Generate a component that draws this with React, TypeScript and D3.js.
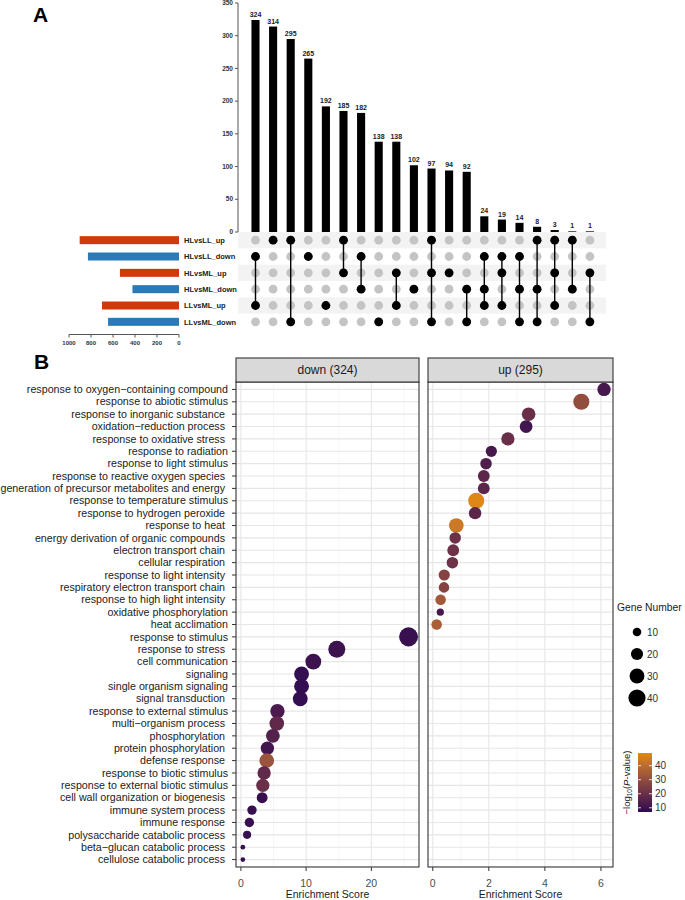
import React from "react";
import * as d3 from "d3";

// ---- panel A: upset data ----
const setNames = ["HLvsLL_up", "HLvsLL_down", "HLvsML_up", "HLvsML_down", "LLvsML_up", "LLvsML_down"];
const setSizes = [903, 828, 537, 423, 700, 645];
const interSizes = [324, 314, 295, 265, 192, 185, 182, 138, 138, 102, 97, 94, 92, 24, 19, 14, 8, 3, 1, 1];
// which sets (row index) take part in each intersection
const interMembers = [
  [1, 4], [0], [0, 5], [1], [4], [0, 2], [1, 3], [5], [2, 4], [3],
  [0, 2, 5], [2], [3, 5], [1, 3, 4], [1, 2, 4], [1, 3, 5], [0, 3, 5], [0, 2, 4], [0, 3], [2, 5],
];
const interTicks = [0, 50, 100, 150, 200, 250, 300, 350];
const setTicks = [1000, 800, 600, 400, 200, 0];

// ---- panel B: GO enrichment ----
const terms = [
  "response to oxygen\u2212containing compound",
  "response to abiotic stimulus",
  "response to inorganic substance ",
  "oxidation\u2212reduction process ",
  "response to oxidative stress ",
  "response to radiation",
  "response to light stimulus",
  "response to reactive oxygen species ",
  "generation of precursor metabolites and energy ",
  "response to temperature stimulus",
  "response to hydrogen peroxide ",
  "response to heat ",
  "energy derivation of organic compounds ",
  "electron transport chain ",
  "cellular respiration ",
  "response to light intensity ",
  "respiratory electron transport chain ",
  "response to high light intensity ",
  "oxidative phosphorylation",
  "heat acclimation",
  "response to stimulus",
  "response to stress ",
  "cell communication",
  "signaling",
  "single organism signaling",
  "signal transduction ",
  "response to external stimulus",
  "multi\u2212organism process ",
  "phosphorylation ",
  "protein phosphorylation ",
  "defense response ",
  "response to biotic stimulus",
  "response to external biotic stimulus",
  "cell wall organization or biogenesis ",
  "immune system process ",
  "immune response ",
  "polysaccharide catabolic process ",
  "beta\u2212glucan catabolic process ",
  "cellulose catabolic process ",
];
const upTerms = terms.slice(0, 20);
const downTerms = terms.slice(20);

const upScore = [6.11, 5.3, 3.42, 3.33, 2.68, 2.09, 1.9, 1.82, 1.82, 1.55, 1.51, 0.84, 0.8, 0.73, 0.7, 0.41, 0.4, 0.28, 0.27, 0.14];
const upGenes = [24, 35, 25, 22, 24, 17, 18, 19, 19, 35, 21, 29, 18, 19, 18, 17, 15, 15, 7, 15];
const upLogP = [12, 30, 20, 11, 20, 12, 14, 17, 17, 48, 17, 44, 21, 21, 21, 27, 27, 34, 12, 36];

const downScore = [25.7, 14.7, 11.1, 9.3, 9.3, 9.1, 5.6, 5.5, 4.9, 4.06, 3.96, 3.56, 3.36, 3.26, 1.7, 1.3, 0.95, 0.3, 0.3];
const downGenes = [49, 39, 34, 30, 30, 30, 28, 29, 26, 24, 29, 24, 24, 16, 12, 12, 9, 3, 3];
const downLogP = [9, 10, 10, 8, 8, 8, 13, 18, 15, 11, 32, 18, 20, 9, 9, 9, 9, 9, 9];

const facetTitles = ["down (324)", "up (295)"];
const sizeBreaks = [10, 20, 30, 40];
const colorBreaks = [10, 20, 30, 40];

const FONT = "'Liberation Sans', Arial, Helvetica, sans-serif";

export default function App() {
  // ---------- upset scales ----------
  const colX = d3.scaleBand<number>().domain(d3.range(interSizes.length)).range([246.7, 598.7]);
  const colC = (i: number) => (colX(i) as number) + colX.bandwidth() / 2;
  const barW = colX.bandwidth() * 0.46;
  const yInter = d3.scaleLinear().domain([0, 350]).range([232, 3]);
  const rowY = d3.scaleBand<number>().domain(d3.range(setNames.length)).range([232, 330]);
  const rowC = (i: number) => (rowY(i) as number) + rowY.bandwidth() / 2;
  const xSet = d3.scaleLinear().domain([0, 1000]).range([179, 69]);

  // ---------- dot plot scales ----------
  const yTerm = d3.scalePoint<string>().domain(terms).range([382, 867]).padding(0.6);
  const rSize = d3.scaleSqrt().domain([0, 50]).range([0, 9.6]);
  const cScale = d3.scaleSequential(d3.interpolateLab("#2e0b50", "#e08a10")).domain([7, 49]);

  const facets = [
    {
      title: facetTitles[0], x: d3.scaleLinear().domain([-0.75, 27.3]).range([236, 419]),
      ticks: [0, 10, 20], minor: [5, 15, 25], names: downTerms, score: downScore, genes: downGenes, logp: downLogP,
    },
    {
      title: facetTitles[1], x: d3.scaleLinear().domain([-0.17, 6.43]).range([428, 613]),
      ticks: [0, 2, 4, 6], minor: [1, 3, 5], names: upTerms, score: upScore, genes: upGenes, logp: upLogP,
    },
  ];
  const pTop = 382, pBot = 867;

  // colour bar
  const cb = { x: 638, w: 14, top: 753, bot: 812 };
  const cbY = d3.scaleLinear().domain([7, 49]).range([cb.bot, cb.top]);
  const gradStops = d3.range(0, 1.0001, 0.1);

  return (
    <div style={{ position: "absolute", left: 0, top: 0 }}>
      <svg width={685} height={900} style={{ display: "block", fontFamily: FONT }}>
        <rect width={685} height={900} fill="#fff" />
        <text x={33} y={22} fontSize={21} fontWeight="bold">A</text>
        <text x={34} y={369} fontSize={21} fontWeight="bold">B</text>

        {/* intersection bar axis */}
        <g fontSize={6.5} fill="#333" fontWeight="bold">
          <line x1={238} x2={238} y1={yInter(350)} y2={yInter(0)} stroke="#555" strokeWidth={1} />
          {interTicks.map((t) => (
            <g key={t}>
              <line x1={235} x2={238} y1={yInter(t)} y2={yInter(t)} stroke="#555" />
              <text x={233} y={yInter(t) + 2.2} textAnchor="end">{t}</text>
            </g>
          ))}
        </g>

        {/* matrix stripes */}
        {setNames.map((_, i) =>
          i % 2 === 0 ? (
            <rect key={i} x={238} y={rowY(i)} width={368} height={rowY.bandwidth()} fill="#f3f3f3" />
          ) : null
        )}

        {/* intersection bars */}
        {interSizes.map((v, i) => (
          <g key={i}>
            <rect x={colC(i) - barW / 2} y={yInter(v)} width={barW} height={yInter(0) - yInter(v)} fill="#000" />
            <text x={colC(i)} y={yInter(v) - 3} textAnchor="middle" fontSize={7} fontWeight="bold" fill="#222">{v}</text>
          </g>
        ))}

        {/* matrix dots */}
        {interSizes.map((_, i) => {
          const m = interMembers[i];
          return (
            <g key={i}>
              {setNames.map((_, r) => (
                <circle key={r} cx={colC(i)} cy={rowC(r)} r={4.4} fill="#c4c4c4" />
              ))}
              {m.length > 1 && (
                <line x1={colC(i)} x2={colC(i)} y1={rowC(d3.min(m) as number)} y2={rowC(d3.max(m) as number)} stroke="#000" strokeWidth={1.4} />
              )}
              {m.map((r) => (
                <circle key={"b" + r} cx={colC(i)} cy={rowC(r)} r={4.4} fill="#000" />
              ))}
            </g>
          );
        })}

        {/* set size bars */}
        {setNames.map((n, i) => (
          <g key={n}>
            <rect x={xSet(setSizes[i])} y={rowC(i) - 4} width={xSet(0) - xSet(setSizes[i])} height={8}
              fill={n.endsWith("_up") ? "#d03a0b" : "#2b7ab8"} />
            <text x={184} y={rowC(i) + 2.7} fontSize={7.5} fontWeight="bold" fill="#222">{n}</text>
          </g>
        ))}
        <g fontSize={6} fontWeight="bold" fill="#333">
          <line x1={xSet(1000)} x2={xSet(0)} y1={334.5} y2={334.5} stroke="#555" />
          {setTicks.map((t) => (
            <g key={t}>
              <line x1={xSet(t)} x2={xSet(t)} y1={334.5} y2={337.5} stroke="#555" />
              <text x={xSet(t)} y={345} textAnchor="middle">{t}</text>
            </g>
          ))}
        </g>

        {/* ---------- panel B ---------- */}
        {facets.map((f, fi) => {
          const [x0, x1] = f.x.range();
          return (
            <g key={fi}>
              <rect x={x0} y={pTop} width={x1 - x0} height={pBot - pTop} fill="#fff" />
              {f.minor.map((t) => (
                <line key={"m" + t} x1={f.x(t)} x2={f.x(t)} y1={pTop} y2={pBot} stroke="#f2f2f2" strokeWidth={0.6} />
              ))}
              {f.ticks.map((t) => (
                <line key={"M" + t} x1={f.x(t)} x2={f.x(t)} y1={pTop} y2={pBot} stroke="#e6e6e6" strokeWidth={1.1} />
              ))}
              {terms.map((t) => (
                <line key={t} x1={x0} x2={x1} y1={yTerm(t)} y2={yTerm(t)} stroke="#e6e6e6" strokeWidth={1.1} />
              ))}
              {f.names.map((t, k) => (
                <circle key={t} cx={f.x(f.score[k])} cy={yTerm(t)} r={rSize(f.genes[k])} fill={cScale(f.logp[k])} />
              ))}
              <rect x={x0} y={pTop} width={x1 - x0} height={pBot - pTop} fill="none" stroke="#333" strokeWidth={1.1} />
              <rect x={x0} y={358} width={x1 - x0} height={pTop - 358} fill="#d9d9d9" stroke="#333" strokeWidth={1.1} />
              <text x={(x0 + x1) / 2} y={374} textAnchor="middle" fontSize={12} fill="#1a1a1a">{f.title}</text>
              {f.ticks.map((t) => (
                <g key={"t" + t}>
                  <line x1={f.x(t)} x2={f.x(t)} y1={pBot} y2={pBot + 4} stroke="#333" />
                  <text x={f.x(t)} y={887} textAnchor="middle" fontSize={10.5} fill="#4d4d4d">{t}</text>
                </g>
              ))}
              <text x={(x0 + x1) / 2} y={898} textAnchor="middle" fontSize={10.5} fill="#1a1a1a">Enrichment Score</text>
            </g>
          );
        })}

        {/* y axis labels */}
        {terms.map((t) => (
          <g key={t}>
            <line x1={232} x2={236} y1={yTerm(t)} y2={yTerm(t)} stroke="#333" />
            <text x={228} y={(yTerm(t) as number) + 3.7} textAnchor="end" fontSize={10.7} fill="#222"
              style={{ whiteSpace: "pre" }}>{t}</text>
          </g>
        ))}

        {/* size legend */}
        <text x={617} y={611} fontSize={10.3} fill="#1a1a1a">Gene Number</text>
        {sizeBreaks.map((s, i) => {
          const cy = 632 + i * 22;
          return (
            <g key={s}>
              <circle cx={637} cy={cy} r={rSize(s)} fill="#000" />
              <text x={647} y={cy + 3.6} fontSize={10} fill="#333">{s}</text>
            </g>
          );
        })}

        {/* colour legend */}
        <defs>
          <linearGradient id="cbar" x1="0" y1="1" x2="0" y2="0">
            {gradStops.map((s) => (
              <stop key={s} offset={s} stopColor={cScale(7 + s * 42)} />
            ))}
          </linearGradient>
        </defs>
        <rect x={cb.x} y={cb.top} width={cb.w} height={cb.bot - cb.top} fill="url(#cbar)" />
        {colorBreaks.map((c) => (
          <g key={c}>
            <line x1={cb.x} x2={cb.x + 3} y1={cbY(c)} y2={cbY(c)} stroke="#fff" strokeWidth={0.8} />
            <line x1={cb.x + cb.w - 3} x2={cb.x + cb.w} y1={cbY(c)} y2={cbY(c)} stroke="#fff" strokeWidth={0.8} />
            <text x={cb.x + cb.w + 3} y={cbY(c) + 3.5} fontSize={10} fill="#333">{c}</text>
          </g>
        ))}
        <text transform={`translate(630,${(cb.top + cb.bot) / 2}) rotate(-90)`} textAnchor="middle" fontSize={9.5} fill="#1a1a1a">
          {"\u2212log"}
          <tspan fontSize={6.5} dy={2}>10</tspan>
          <tspan dy={-2}>(</tspan>
          <tspan fontStyle="italic">P</tspan>
          <tspan>-value)</tspan>
        </text>
      </svg>
    </div>
  );
}
